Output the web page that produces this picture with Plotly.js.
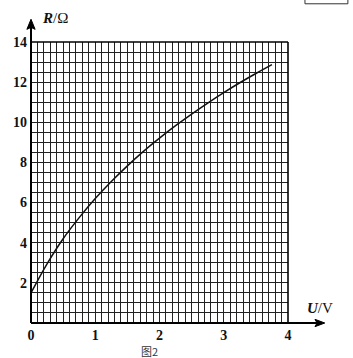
<!DOCTYPE html>
<html><head><meta charset="utf-8">
<script src="https://cdn.plot.ly/plotly-3.0.1.min.js"></script>
<style>html,body{margin:0;padding:0;background:#fff}#c{width:353px;height:358px}</style>
</head><body><div id="c"></div>
<script>
// Data (U in volts, R in ohms)
const U = [0, 0.25, 0.5, 0.75, 1.0, 1.25, 1.5, 1.75, 2.0, 2.25, 2.5, 2.75, 3.0, 3.25, 3.5, 3.75];
const R = [1.5, 2.95, 4.2, 5.25, 6.2, 7.05, 7.83, 8.55, 9.21, 9.83, 10.41, 10.96, 11.48, 11.97, 12.43, 12.87];
const xTickVals = [0, 1, 2, 3, 4];
const xTickText = ['<b>0</b>', '<b>1</b>', '<b>2</b>', '<b>3</b>', '<b>4</b>'];
const yTickVals = [2, 4, 6, 8, 10, 12, 14];
const yTickText = ['<b>2</b>', '<b>4</b>', '<b>6</b>', '<b>8</b>', '<b>10</b>', '<b>12</b>', '<b>14</b>'];

const font = {family: 'Liberation Serif, Times New Roman, serif', size: 14, color: '#111'};

const trace = {
  x: U, y: R, type: 'scatter', mode: 'lines',
  line: {color: '#111', width: 1.5, shape: 'spline', smoothing: 1},
  hoverinfo: 'skip'
};

const layout = {
  width: 353, height: 358,
  margin: {l: 31, r: 65, t: 42, b: 35},
  paper_bgcolor: '#fff', plot_bgcolor: '#fff',
  showlegend: false,
  font: font,
  xaxis: {
    range: [0, 4], tickvals: xTickVals, ticktext: xTickText,
    showgrid: true, gridcolor: '#222', gridwidth: 1,
    minor: {dtick: 0.1, showgrid: true, gridcolor: '#222', gridwidth: 1},
    zeroline: false, showline: false, ticks: '', fixedrange: true,
    ticklabelstandoff: 2
  },
  yaxis: {
    range: [0, 14], tickvals: yTickVals, ticktext: yTickText,
    showgrid: true, gridcolor: '#222', gridwidth: 1,
    minor: {dtick: 0.5, showgrid: true, gridcolor: '#222', gridwidth: 1},
    zeroline: false, showline: false, ticks: '', fixedrange: true,
    ticklabelstandoff: 3
  },
  shapes: [
    {type: 'line', xref: 'paper', yref: 'paper', x0: 0, x1: 0, y0: 0, y1: 1.06, line: {color: '#000', width: 2}},
    {type: 'path', xref: 'paper', yref: 'paper', path: 'M -0.016 1.045 L 0 1.081 L 0.016 1.045 L 0 1.052 Z', fillcolor: '#000', line: {color: '#000', width: 1}},
    {type: 'line', xref: 'paper', yref: 'paper', x0: 0, x1: 1.13, y0: 0, y1: 0, line: {color: '#000', width: 2}},
    {type: 'path', xref: 'paper', yref: 'paper', path: 'M 1.105 0.013 L 1.143 0 L 1.105 -0.013 L 1.113 0 Z', fillcolor: '#000', line: {color: '#000', width: 1}},
    {type: 'line', xref: 'paper', yref: 'paper', x0: 1, x1: 1, y0: 0, y1: 1, line: {color: '#000', width: 1.6}},
    {type: 'line', xref: 'paper', yref: 'paper', x0: 0, x1: 1, y0: 1, y1: 1, line: {color: '#000', width: 1.6}},
    {type: 'rect', xref: 'paper', yref: 'paper', x0: 1.066, x1: 1.233, y0: 1.136, y1: 1.2, line: {color: '#333', width: 1}}
  ],
  annotations: [
    {xref: 'paper', yref: 'paper', x: 0.035, y: 1.085, xanchor: 'left', yanchor: 'middle', showarrow: false,
     text: '<b><i>R</i></b>/Ω', font: {family: font.family, size: 15, color: '#111'}},
    {xref: 'paper', yref: 'paper', x: 1.066, y: 0.053, xanchor: 'left', yanchor: 'middle', showarrow: false,
     text: '<b><i>U</i></b>/V', font: {family: font.family, size: 15, color: '#111'}},
    {xref: 'paper', yref: 'paper', x: 0.463, y: -0.098, xanchor: 'center', yanchor: 'middle', showarrow: false,
     text: '图2', font: {family: 'Noto Sans CJK SC, sans-serif', size: 11, color: '#333'}}
  ]
};

Plotly.newPlot('c', [trace], layout, {staticPlot: true, displayModeBar: false});
</script>
</body></html>
